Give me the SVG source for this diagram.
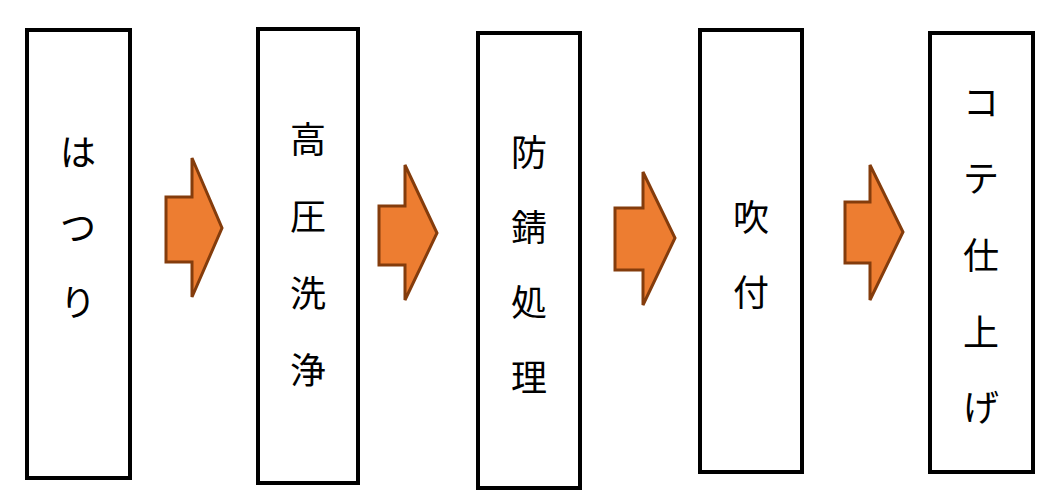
<svg xmlns="http://www.w3.org/2000/svg" width="1060" height="500" viewBox="0 0 1060 500">
<style>
.box{fill:#fff;stroke:#000;stroke-width:4}
.arr{fill:#ED7D31;stroke:#843C0C;stroke-width:3;stroke-linejoin:miter}
text{font-family:"Noto Sans CJK JP","Noto Sans",sans-serif;font-size:36px;fill:#000;text-anchor:middle;dominant-baseline:central}
</style>
<rect width="1060" height="500" fill="#fff"/>
<g id="connectors">
<polygon class="arr" points="166,197 192,197 192,158 222,228 192,297 192,262 166,262"/>
<polygon class="arr" points="379,206 405,206 405,165 437,233 405,300 405,265 379,265"/>
<polygon class="arr" points="615,208 643,208 643,172 675,238 643,305 643,270 615,270"/>
<polygon class="arr" points="845,202 870,202 870,165 903,232 870,300 870,263 845,263"/>
</g>
<g id="n1"><rect class="box" x="27" y="30" width="103" height="448"/>
<text x="78" y="150">は</text><text x="78" y="225">つ</text><text x="78" y="300">り</text></g>
<g id="n2"><rect class="box" x="258" y="29" width="100" height="454"/>
<text x="308" y="137">高</text><text x="308" y="214">圧</text><text x="308" y="291">洗</text><text x="308" y="368">浄</text></g>
<g id="n3"><rect class="box" x="478" y="33" width="102" height="455"/>
<text x="529" y="150">防</text><text x="529" y="225">錆</text><text x="529" y="300">処</text><text x="529" y="375">理</text></g>
<g id="n4"><rect class="box" x="700" y="30" width="102" height="442"/>
<text x="751" y="215">吹</text><text x="751" y="290">付</text></g>
<g id="n5"><rect class="box" x="930" y="33" width="103" height="439"/>
<text x="981" y="100">コ</text><text x="981" y="176">テ</text><text x="981" y="253">仕</text><text x="981" y="330">上</text><text x="981" y="405">げ</text></g>
</svg>
